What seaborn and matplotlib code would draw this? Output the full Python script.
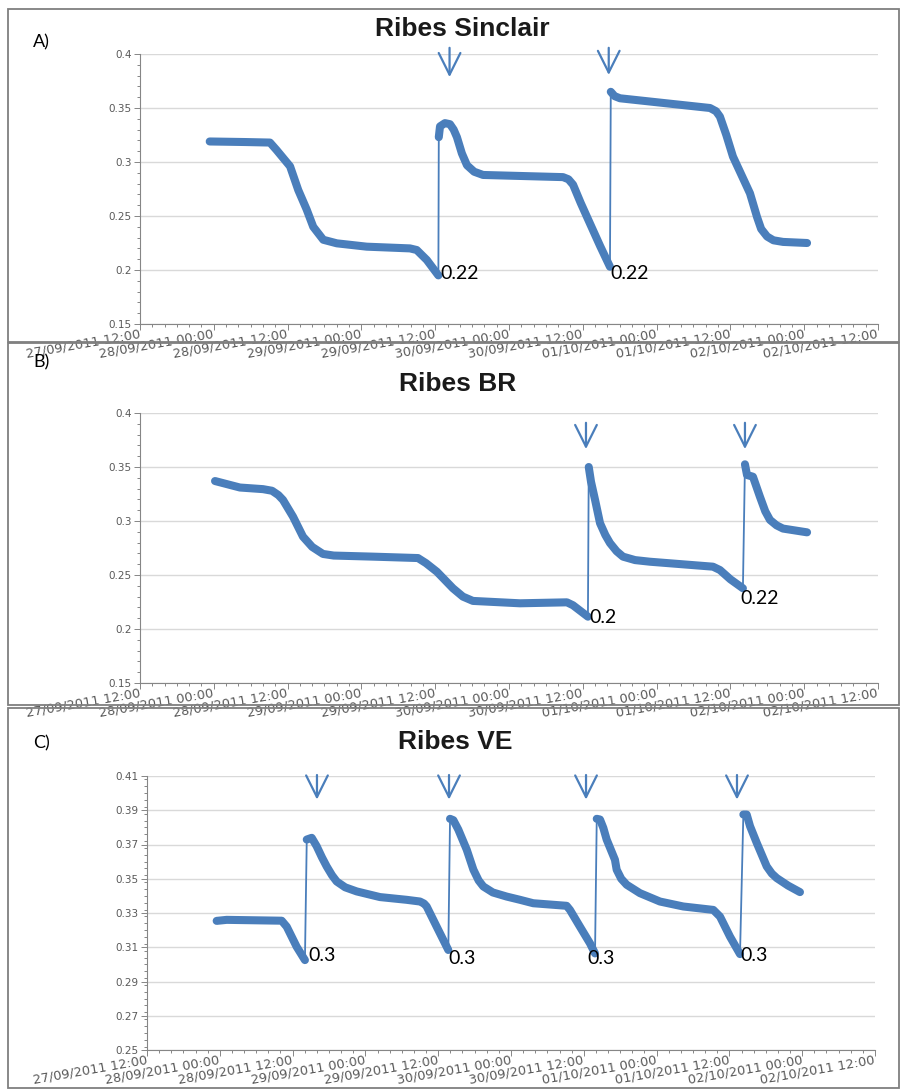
import matplotlib
matplotlib.use("Agg")
import matplotlib.pyplot as plt
import matplotlib.dates as mdates
from matplotlib.ticker import MultipleLocator, FixedLocator, FixedFormatter
from matplotlib.patches import Rectangle
import seaborn as sns
import pandas as pd

sns.set_theme(style="white")
plt.rcParams['font.family'] = ['DejaVu Sans']

BLUE = "#4a7ebb"
GRAY_TXT = "#595959"
GRID = "#d9d9d9"
AXIS = "#868686"

# ---------------- Data ----------------
# Panel A: Ribes Sinclair
a_time = ["2011-09-27 23:20", "2011-09-28 05:00", "2011-09-28 09:08", "2011-09-28 10:13",
          "2011-09-28 12:24", "2011-09-28 13:44", "2011-09-28 15:06", "2011-09-28 16:10",
          "2011-09-28 17:48", "2011-09-28 20:00", "2011-09-29 00:52", "2011-09-29 07:54",
          "2011-09-29 09:00", "2011-09-29 10:38", "2011-09-29 12:31",
          "2011-09-29 12:35", "2011-09-29 12:47", "2011-09-29 13:35", "2011-09-29 14:24",
          "2011-09-29 15:00", "2011-09-29 15:32", "2011-09-29 16:20", "2011-09-29 17:10",
          "2011-09-29 18:20", "2011-09-29 19:47", "2011-09-30 08:47", "2011-09-30 09:40",
          "2011-09-30 10:25", "2011-09-30 11:40", "2011-09-30 13:10", "2011-09-30 14:50",
          "2011-09-30 16:25",
          "2011-09-30 16:33", "2011-09-30 17:10", "2011-09-30 18:03", "2011-09-30 22:55",
          "2011-10-01 08:41", "2011-10-01 09:40", "2011-10-01 10:18", "2011-10-01 11:20",
          "2011-10-01 12:25", "2011-10-01 15:11", "2011-10-01 16:20", "2011-10-01 17:00",
          "2011-10-01 17:58", "2011-10-01 19:00", "2011-10-01 20:34", "2011-10-02 00:28"]
a_value = [0.319, 0.3185, 0.318, 0.311, 0.296, 0.274, 0.256, 0.240, 0.228, 0.2247,
           0.2216, 0.220, 0.2185, 0.2093, 0.195,
           0.323, 0.333, 0.336, 0.335, 0.330, 0.323, 0.308, 0.297, 0.291, 0.288, 0.286,
           0.284, 0.279, 0.262, 0.243, 0.222, 0.203,
           0.365, 0.361, 0.359, 0.356, 0.350, 0.347, 0.342, 0.325, 0.305, 0.271, 0.249,
           0.238, 0.231, 0.2275, 0.226, 0.225]
a_seg = [0] * 15 + [1] * 17 + [2] * 16

# Panel B: Ribes BR
b_time = ["2011-09-28 00:12", "2011-09-28 04:15", "2011-09-28 08:00", "2011-09-28 09:28",
          "2011-09-28 10:30", "2011-09-28 11:15", "2011-09-28 12:53", "2011-09-28 14:30",
          "2011-09-28 16:00", "2011-09-28 17:45", "2011-09-28 19:30", "2011-09-29 01:53",
          "2011-09-29 09:12", "2011-09-29 10:30", "2011-09-29 12:17", "2011-09-29 14:53",
          "2011-09-29 16:30", "2011-09-29 18:08", "2011-09-30 01:47", "2011-09-30 09:25",
          "2011-09-30 10:24", "2011-09-30 12:50",
          "2011-09-30 12:58", "2011-09-30 13:20", "2011-09-30 14:00", "2011-09-30 14:48",
          "2011-09-30 15:40", "2011-09-30 16:25", "2011-09-30 17:30", "2011-09-30 18:32",
          "2011-09-30 20:30", "2011-09-30 22:55", "2011-10-01 09:10", "2011-10-01 10:18",
          "2011-10-01 12:00", "2011-10-01 14:02",
          "2011-10-01 14:22", "2011-10-01 14:42", "2011-10-01 15:40", "2011-10-01 16:48",
          "2011-10-01 17:40", "2011-10-01 18:26", "2011-10-01 19:30", "2011-10-01 20:33",
          "2011-10-02 00:28"]
b_value = [0.337, 0.331, 0.3295, 0.328, 0.324, 0.3195, 0.304, 0.2855, 0.276, 0.2695,
           0.268, 0.267, 0.2657, 0.261, 0.253, 0.2377, 0.230, 0.226, 0.2238, 0.2247,
           0.222, 0.2114,
           0.350, 0.3364, 0.3194, 0.298, 0.287, 0.2796, 0.272, 0.267, 0.2638, 0.2623,
           0.2577, 0.2546, 0.246, 0.2377,
           0.3525, 0.3426, 0.341, 0.3225, 0.309, 0.301, 0.296, 0.293, 0.2895]
b_seg = [0] * 22 + [1] * 14 + [2] * 9

# Panel C: Ribes VE
c_time = ["2011-09-27 23:29", "2011-09-28 01:08", "2011-09-28 10:12", "2011-09-28 11:02",
          "2011-09-28 12:40", "2011-09-28 14:02",
          "2011-09-28 14:20", "2011-09-28 15:09", "2011-09-28 15:58", "2011-09-28 16:50",
          "2011-09-28 17:37", "2011-09-28 18:30", "2011-09-28 19:16", "2011-09-28 20:40",
          "2011-09-28 22:34", "2011-09-29 02:24", "2011-09-29 06:48", "2011-09-29 09:00",
          "2011-09-29 09:40", "2011-09-29 10:06", "2011-09-29 11:45", "2011-09-29 13:40",
          "2011-09-29 13:57", "2011-09-29 14:30", "2011-09-29 15:19", "2011-09-29 16:42",
          "2011-09-29 17:48", "2011-09-29 18:40", "2011-09-29 19:26", "2011-09-29 21:00",
          "2011-09-29 23:17", "2011-09-30 01:29", "2011-09-30 03:40", "2011-09-30 09:10",
          "2011-09-30 09:43", "2011-09-30 11:22", "2011-09-30 13:01", "2011-09-30 13:51",
          "2011-09-30 14:08", "2011-09-30 14:40", "2011-09-30 15:13", "2011-09-30 15:46",
          "2011-09-30 17:08", "2011-09-30 17:25", "2011-09-30 18:10", "2011-09-30 19:04",
          "2011-09-30 21:15", "2011-10-01 00:33", "2011-10-01 04:24", "2011-10-01 09:21",
          "2011-10-01 10:27", "2011-10-01 12:06", "2011-10-01 13:45",
          "2011-10-01 14:18", "2011-10-01 14:51", "2011-10-01 15:24", "2011-10-01 16:30",
          "2011-10-01 18:09", "2011-10-01 19:00", "2011-10-01 19:48", "2011-10-01 21:40",
          "2011-10-01 23:38"]
c_value = [0.3254, 0.326, 0.3255, 0.322, 0.3103, 0.3025,
           0.3729, 0.3739, 0.369, 0.3625, 0.3572, 0.352, 0.3484, 0.345, 0.3426, 0.3393,
           0.3377, 0.3367, 0.3355, 0.3338, 0.322, 0.3084,
           0.385, 0.3842, 0.3787, 0.367, 0.3553, 0.349, 0.3455, 0.342, 0.3396, 0.3377,
           0.3357, 0.3342, 0.3318, 0.322, 0.3123, 0.3064,
           0.385, 0.3846, 0.3797, 0.3729, 0.3611, 0.3553, 0.350, 0.3465, 0.3416, 0.3367,
           0.3338, 0.3318, 0.3279, 0.3162, 0.306,
           0.3875, 0.3875, 0.3807, 0.371, 0.3572, 0.353, 0.3504, 0.346, 0.3422]
c_seg = [0] * 6 + [1] * 16 + [2] * 16 + [3] * 15 + [4] * 9

ab_yticks = [0.15, 0.2, 0.25, 0.3, 0.35, 0.4]
ab_ylabels = ["0.15", "0.2", "0.25", "0.3", "0.35", "0.4"]
c_yticks = [0.25, 0.27, 0.29, 0.31, 0.33, 0.35, 0.37, 0.39, 0.41]
c_ylabels = ["0.25", "0.27", "0.29", "0.31", "0.33", "0.35", "0.37", "0.39", "0.41"]

titles = ["Ribes Sinclair", "Ribes BR", "Ribes VE"]
panel_letters = ["A)", "B)", "C)"]

# annotation labels: (time, value, text)
a_notes = [("2011-09-29 12:47", 0.1972, "0.22"), ("2011-09-30 16:25", 0.1972, "0.22")]
b_notes = [("2011-09-30 13:00", 0.2102, "0.2"), ("2011-10-01 13:33", 0.2287, "0.22")]
c_notes = [("2011-09-28 14:32", 0.3054, "0.3"), ("2011-09-29 13:37", 0.3037, "0.3"),
           ("2011-09-30 12:32", 0.3037, "0.3"), ("2011-10-01 13:45", 0.3054, "0.3")]
# arrows: (time, y_start, y_end)
a_arrows = [("2011-09-29 14:20", 0.4083, 0.376), ("2011-09-30 16:13", 0.4083, 0.378)]
b_arrows = [("2011-09-30 12:31", 0.3935, 0.364), ("2011-10-01 14:22", 0.3935, 0.364)]
c_arrows = [("2011-09-28 16:01", 0.4122, 0.3946), ("2011-09-29 13:47", 0.4122, 0.3946),
            ("2011-09-30 12:22", 0.4122, 0.3946), ("2011-10-01 13:15", 0.4122, 0.3946)]

# ---------------- Figure ----------------
W, H = 902, 1090
fig = plt.figure(figsize=(W / 100, H / 100), dpi=100)


def fx(px):
    return px / W


def fy(py):
    return 1 - py / H


axA = fig.add_axes([fx(140), fy(324), fx(878) - fx(140), fy(54) - fy(324)])
axB = fig.add_axes([fx(140), fy(683), fx(878) - fx(140), fy(413) - fy(683)])
axC = fig.add_axes([fx(147), fy(1050), fx(875) - fx(147), fy(776) - fy(1050)])

panels = [
    (axA, a_time, a_value, a_seg, ab_yticks, ab_ylabels, (0.15, 0.4), 0.01, a_notes, a_arrows),
    (axB, b_time, b_value, b_seg, ab_yticks, ab_ylabels, (0.15, 0.4), 0.01, b_notes, b_arrows),
    (axC, c_time, c_value, c_seg, c_yticks, c_ylabels, (0.25, 0.41), 0.004, c_notes, c_arrows),
]

for ax, t, v, s, yt, yl, ylim, ymin_step, notes, arrows in panels:
    df = pd.DataFrame({"time": pd.to_datetime(t), "value": v, "seg": s})
    sns.lineplot(data=df, x="time", y="value", color=BLUE, lw=1.3, ax=ax,
                 estimator=None, sort=False)
    sns.lineplot(data=df, x="time", y="value", units="seg", color=BLUE, lw=5.8, ax=ax,
                 estimator=None, sort=False, solid_capstyle="round", solid_joinstyle="round")
    ax.set_xlim(pd.Timestamp("2011-09-27 12:00"), pd.Timestamp("2011-10-02 12:00"))
    ax.set_ylim(*ylim)
    ax.xaxis.set_major_locator(mdates.HourLocator(byhour=[0, 12]))
    ax.xaxis.set_major_formatter(mdates.DateFormatter("%d/%m/%Y %H:%M"))
    ax.xaxis.set_minor_locator(mdates.HourLocator(byhour=range(0, 24, 2)))
    ax.yaxis.set_major_locator(FixedLocator(yt))
    ax.yaxis.set_major_formatter(FixedFormatter(yl))
    ax.yaxis.set_minor_locator(MultipleLocator(ymin_step))
    ax.set_xlabel("")
    ax.set_ylabel("")
    ax.grid(axis="y", which="major", color=GRID, lw=1.0)
    ax.grid(axis="x", visible=False)
    for sp in ["top", "right"]:
        ax.spines[sp].set_visible(False)
    for sp in ["left", "bottom"]:
        ax.spines[sp].set_color(AXIS)
        ax.spines[sp].set_linewidth(0.8)
    ax.tick_params(axis="both", which="both", direction="out", color=AXIS, width=0.7,
                   left=True, bottom=True)
    ax.tick_params(axis="both", which="major", length=4)
    ax.tick_params(axis="both", which="minor", length=2.5)
    ax.tick_params(axis="y", which="major", labelsize=7.5, labelcolor=GRAY_TXT, pad=2)
    ax.tick_params(axis="x", which="major", labelsize=9.3, labelcolor=GRAY_TXT, pad=3)
    for lab in ax.get_xticklabels():
        lab.set_rotation(10)
        lab.set_ha("right")
        lab.set_va("center")
        lab.set_rotation_mode("anchor")
    for tt, yy, txt in notes:
        ax.text(pd.Timestamp(tt), yy, txt, ha="left", va="center", fontsize=14,
                family=["Lato", "DejaVu Sans"], color="black", clip_on=False)
    for tt, y0, y1 in arrows:
        ax.annotate("", xy=(pd.Timestamp(tt), y1), xytext=(pd.Timestamp(tt), y0),
                    annotation_clip=False,
                    arrowprops=dict(arrowstyle="->,head_length=1.3,head_width=0.65",
                                    color=BLUE, lw=1.6))

# titles and panel letters
title_pos = [(462, 29), (458, 384), (455, 742)]
letter_pos = [(33, 42), (33, 362), (33, 743)]
for (x, y), ttl in zip(title_pos, titles):
    fig.text(fx(x), fy(y), ttl, ha="center", va="center", fontsize=19, fontweight="bold",
             family=["Liberation Sans", "DejaVu Sans"], color="#1a1a1a")
for (x, y), let in zip(letter_pos, panel_letters):
    fig.text(fx(x), fy(y), let, ha="left", va="center", fontsize=13,
             family=["Lato", "DejaVu Sans"], color="black")

# panel borders
for top, bot in [(9, 342), (343, 705), (708, 1088)]:
    fig.add_artist(Rectangle((fx(8), fy(bot)), fx(899) - fx(8), fy(top) - fy(bot),
                             transform=fig.transFigure, fill=False, ec="#7f7f7f", lw=1.3))

fig.savefig("out.png", dpi=100)
